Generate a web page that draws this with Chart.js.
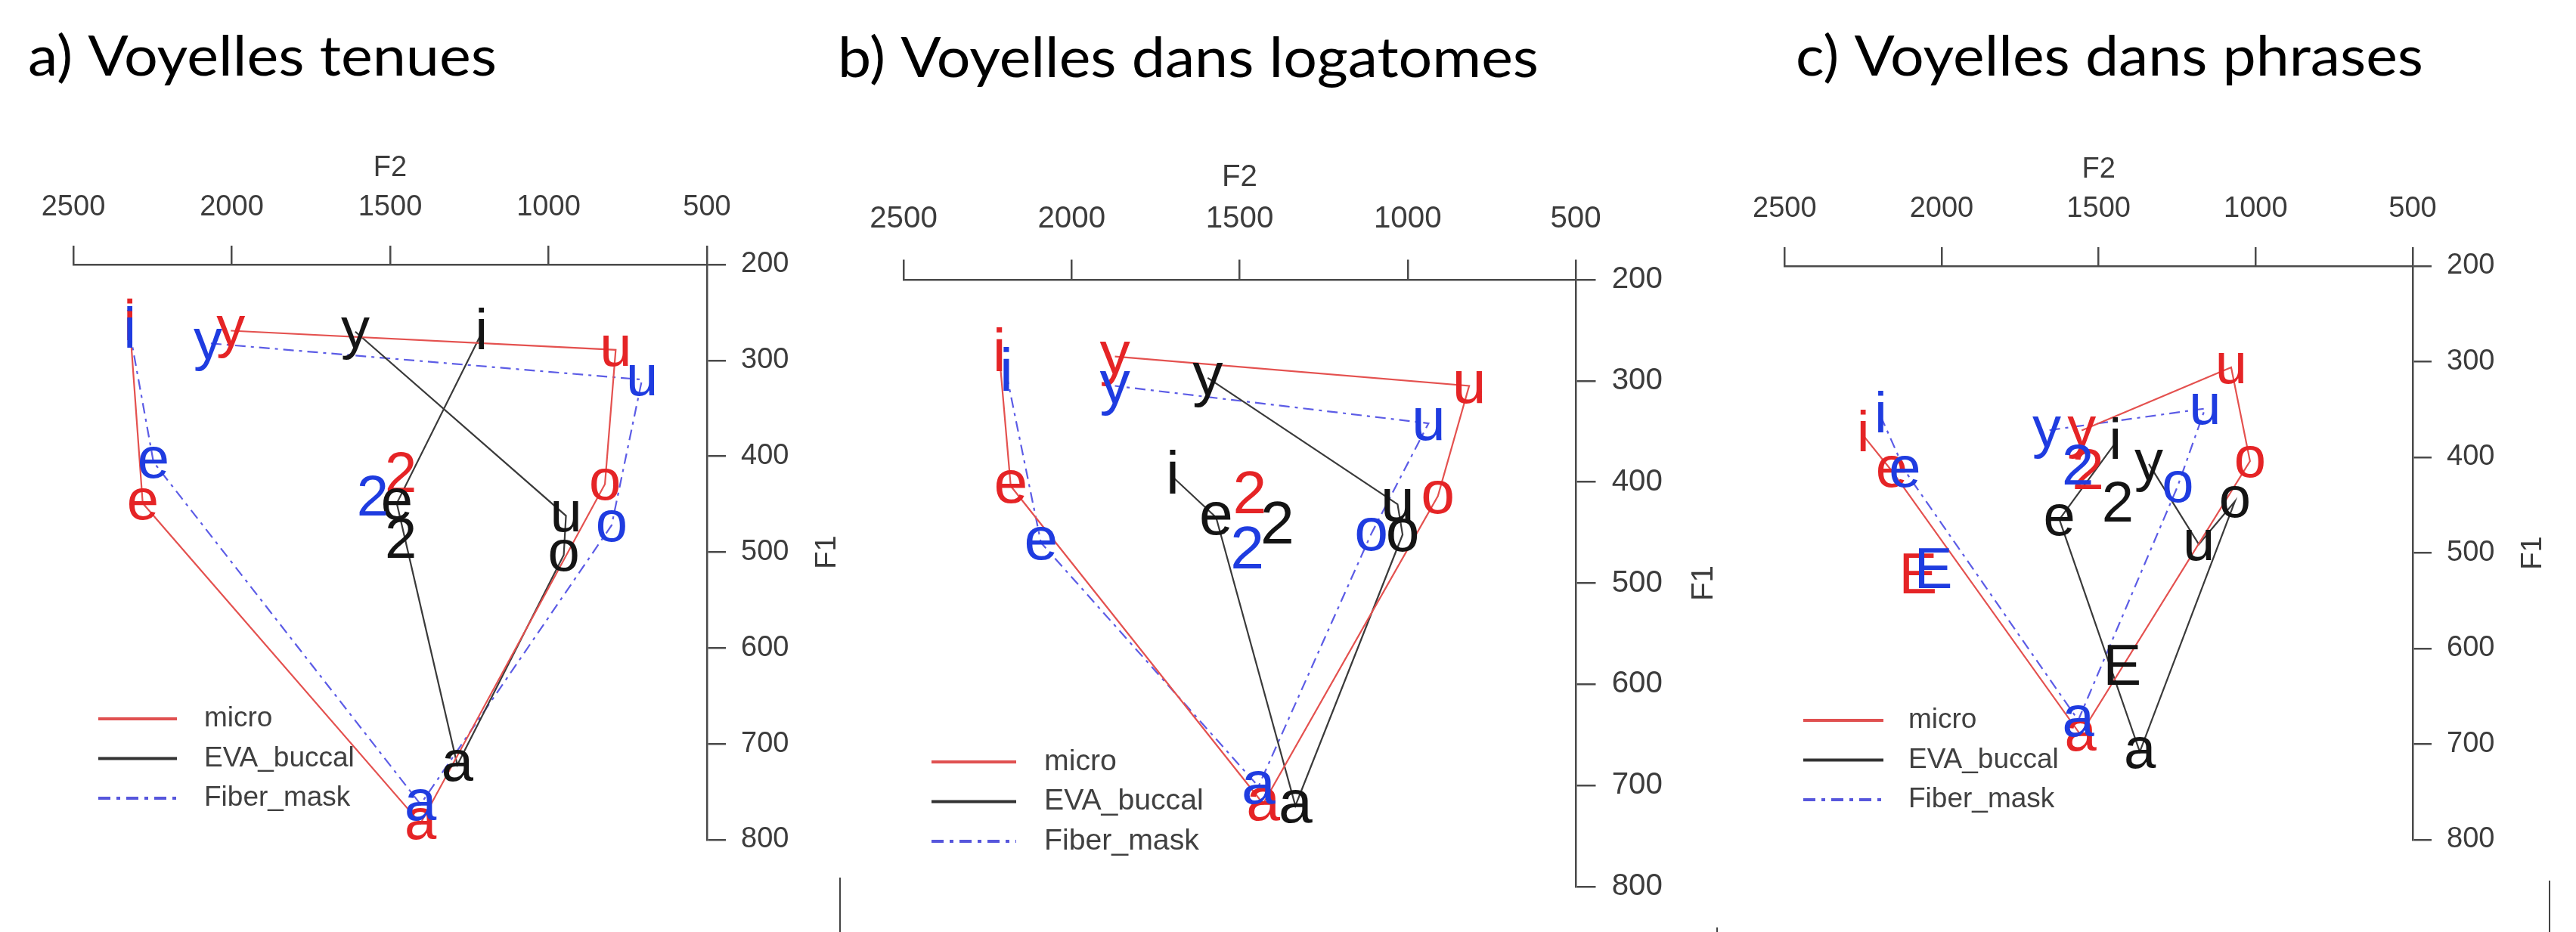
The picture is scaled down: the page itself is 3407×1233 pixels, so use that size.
<!DOCTYPE html>
<html>
<head>
<meta charset="utf-8">
<script src="https://cdn.jsdelivr.net/npm/chart.js@4.4.1/dist/chart.umd.min.js"></script>
<style>
  html, body { margin: 0; padding: 0; background: #fff; }
  body { width: 3407px; height: 1233px; position: relative; overflow: hidden; }
  canvas { position: absolute; top: 0; }
  .stub { position: absolute; width: 2px; background: #444; }
</style>
</head>
<body>
<canvas id="tenues" width="1140" height="1233" style="left:0px"></canvas>
<canvas id="logatomes" width="1200" height="1233" style="left:1090px"></canvas>
<canvas id="phrases" width="1117" height="1233" style="left:2290px"></canvas>
<div class="stub" style="left:1110px; top:1161px; height:72px"></div>
<div class="stub" style="left:2270px; top:1227px; height:6px"></div>
<div class="stub" style="left:3371px; top:1165px; height:68px"></div>
<script>
// vowels joined by the polygon line, then the ones plotted alone
const vowelOrder = ['i', 'e', 'a', 'o', 'u', 'y'];
const loneTenues = ['2'];
const loneLogatomes = ['2'];
const lonePhrases = ['2', 'E'];
const seriesNames = ['micro', 'EVA_buccal', 'Fiber_mask'];
const f2Ticks = [2500, 2000, 1500, 1000, 500];
const f1Ticks = [200, 300, 400, 500, 600, 700, 800];

// a) Voyelles tenues  -- order: i e a o u y | 2
const tenuesMicroF2  = [2322, 2281, 1404, 822, 788, 2003, 1466];
const tenuesMicroF1  = [262, 449, 783, 429, 289, 269, 421];
const tenuesBuccalF2 = [1212, 1479, 1288, 952, 945, 1610, 1466];
const tenuesBuccalF1 = [272, 449, 722, 503, 462, 270, 489];
const tenuesFiberF2  = [2322, 2247, 1404, 801, 705, 2075, 1555];
const tenuesFiberF1  = [270, 406, 763, 472, 320, 282, 445];

// b) Voyelles dans logatomes
const logaMicroF2  = [2215, 2181, 1430, 910, 817, 1871, 1470];
const logaMicroF1  = [274, 404, 718, 414, 305, 276, 414];
const logaBuccalF2 = [1699, 1570, 1334, 1015, 1030, 1595, 1388];
const logaBuccalF1 = [395, 435, 720, 452, 422, 297, 444];
const logaFiberF2  = [2194, 2091, 1444, 1108, 938, 1871, 1477];
const logaFiberF1  = [293, 460, 701, 451, 342, 305, 469];

// c) Voyelles dans phrases  -- order: i e a o u y | 2 E
const phrMicroF2  = [2250, 2159, 1558, 1018, 1078, 1554, 1534, 2075];
const phrMicroF1  = [377, 414, 690, 404, 306, 372, 417, 526];
const phrBuccalF2 = [1447, 1625, 1369, 1066, 1181, 1340, 1439, 1425];
const phrBuccalF1 = [385, 465, 708, 446, 491, 407, 451, 621];
const phrFiberF2  = [2194, 2117, 1565, 1248, 1161, 1665, 1566, 2026];
const phrFiberF1  = [357, 414, 675, 430, 349, 372, 412, 520];

const FONT = '"Liberation Sans", Arial, sans-serif';
const AXIS = '#4a4a4a';

const styles = [
  { text: '#e52426', line: '#e4514f', legend: '#e05050', dash: [] },
  { text: '#141414', line: '#3a3a3a', legend: '#333333', dash: [] },
  { text: '#1f3ce0', line: '#5c5ce6', legend: '#5656dc', dash: [14, 7, 4, 7] }
];

function pts(f2, f1, from, to) {
  return f2.slice(from, to).map((x, i) => ({ x: x, y: f1[from + i] }));
}

// per series: polygon first, then its lone vowels (R-like drawing order)
function buildDatasets(series, lone) {
  const n = vowelOrder.length;
  const out = [];
  series.forEach((s, i) => {
    out.push({
      label: seriesNames[i],
      data: pts(s[0], s[1], 0, n),
      vowels: vowelOrder,
      showLine: true,
      inLegend: true,
      borderColor: styles[i].line,
      borderWidth: 2.2,
      borderDash: styles[i].dash,
      legendColor: styles[i].legend,
      textColor: styles[i].text,
      pointRadius: 0,
      pointHoverRadius: 0
    });
    out.push({
      label: seriesNames[i] + ' (alone)',
      data: pts(s[0], s[1], n, s[0].length),
      vowels: lone,
      showLine: false,
      inLegend: false,
      textColor: styles[i].text,
      pointRadius: 0,
      pointHoverRadius: 0
    });
  });
  return out;
}

const vowelText = {
  id: 'vowelText',
  afterDatasetsDraw(chart, args, opts) {
    const ctx = chart.ctx;
    ctx.save();
    ctx.font = opts.size + 'px ' + FONT;
    ctx.textAlign = 'center';
    ctx.textBaseline = 'middle';
    chart.data.datasets.forEach((ds, di) => {
      const meta = chart.getDatasetMeta(di);
      ctx.fillStyle = ds.textColor;
      meta.data.forEach((p, i) => ctx.fillText(ds.vowels[i], p.x, p.y));
    });
    ctx.restore();
  }
};

const decorations = {
  id: 'decorations',
  afterDraw(chart, args, o) {
    const ctx = chart.ctx, a = chart.chartArea, k = o.k;
    ctx.save();

    // panel title
    ctx.font = '73px Lato, "Open Sans", sans-serif';
    ctx.fillStyle = '#000';
    ctx.textAlign = 'left';
    ctx.textBaseline = 'alphabetic';
    const w = ctx.measureText(o.title).width;
    ctx.save();
    ctx.translate(o.titleX, o.titleY);
    ctx.scale(o.titleW / w, 1);
    ctx.fillText(o.title, 0, 0);
    ctx.restore();

    // axis titles
    ctx.font = (38 * k) + 'px ' + FONT;
    ctx.fillStyle = '#3c3c3c';
    ctx.textAlign = 'center';
    ctx.textBaseline = 'middle';
    ctx.fillText('F2', (a.left + a.right) / 2, a.top - 127 * k);
    ctx.save();
    ctx.translate(a.right + 160 * k, (a.top + a.bottom) / 2);
    ctx.rotate(-Math.PI / 2);
    ctx.fillText('F1', 0, 0);
    ctx.restore();

    // legend
    const L = o.legend;
    ctx.font = (37 * k) + 'px ' + FONT;
    ctx.textAlign = 'left';
    ctx.fillStyle = '#404040';
    chart.data.datasets.filter(ds => ds.inLegend).forEach((ds, i) => {
      const y = L.y + i * L.dy;
      ctx.beginPath();
      ctx.setLineDash(ds.borderDash.length ? [16, 8, 5, 8] : []);
      ctx.strokeStyle = ds.legendColor;
      ctx.lineWidth = 4;
      ctx.moveTo(L.x0, y);
      ctx.lineTo(L.x1, y);
      ctx.stroke();
      ctx.fillText(ds.label, L.tx, y);
    });
    ctx.restore();
  }
};

function makeChart(id, p) {
  const k = p.k;
  const grid = { drawOnChartArea: false, drawTicks: true, tickLength: 25 * k, color: AXIS, lineWidth: 2.5 };
  const border = { display: true, color: AXIS, width: 2.5 };
  return new Chart(document.getElementById(id), {
    type: 'scatter',
    data: { datasets: buildDatasets(p.series, p.lone) },
    options: {
      responsive: false,
      animation: false,
      events: [],
      layout: { padding: { left: p.padLeft, right: 0, top: 0, bottom: p.padBottom } },
      plugins: {
        legend: { display: false },
        tooltip: { enabled: false },
        vowelText: { size: 76 * k },
        decorations: { k: k, title: p.title, titleX: p.titleX, titleY: p.titleY, titleW: p.titleW, legend: p.legend }
      },
      scales: {
        x: {
          type: 'linear', position: 'top', reverse: true, min: 500, max: 2500,
          afterFit: s => { s.height = p.top; },
          afterBuildTicks: s => { s.ticks = f2Ticks.map(v => ({ value: v })); },
          grid: grid, border: border,
          ticks: { font: { family: FONT, size: 38 * k }, color: '#3c3c3c', padding: 28 * k,
                   maxRotation: 0, autoSkip: false, callback: v => String(v) }
        },
        y: {
          type: 'linear', position: 'right', reverse: true, min: 200, max: 800,
          afterFit: s => { s.width = p.yWidth; },
          afterBuildTicks: s => { s.ticks = f1Ticks.map(v => ({ value: v })); },
          grid: grid, border: border,
          ticks: { font: { family: FONT, size: 38 * k }, color: '#3c3c3c', padding: 20 * k,
                   autoSkip: false, callback: v => String(v) }
        }
      }
    },
    plugins: [vowelText, decorations]
  });
}

makeChart('tenues', {
  k: 1, padLeft: 97, top: 350, padBottom: 122, yWidth: 205,
  title: 'a) Voyelles tenues', titleX: 37, titleY: 100, titleW: 620,
  legend: { x0: 130, x1: 234, tx: 270, y: 951, dy: 52.5 },
  series: [[tenuesMicroF2, tenuesMicroF1], [tenuesBuccalF2, tenuesBuccalF1], [tenuesFiberF2, tenuesFiberF1]],
  lone: loneTenues
});

makeChart('logatomes', {
  k: 1.06, padLeft: 105, top: 370, padBottom: 60, yWidth: 206,
  title: 'b) Voyelles dans logatomes', titleX: 18, titleY: 102, titleW: 927,
  legend: { x0: 142, x1: 254, tx: 291, y: 1008, dy: 52.5 },
  series: [[logaMicroF2, logaMicroF1], [logaBuccalF2, logaBuccalF1], [logaFiberF2, logaFiberF1]],
  lone: loneLogatomes
});

makeChart('phrases', {
  k: 1, padLeft: 61, top: 352, padBottom: 122, yWidth: 216,
  title: 'c) Voyelles dans phrases', titleX: 85, titleY: 100, titleW: 830,
  legend: { x0: 95, x1: 201, tx: 234, y: 953, dy: 52.5 },
  series: [[phrMicroF2, phrMicroF1], [phrBuccalF2, phrBuccalF1], [phrFiberF2, phrFiberF1]],
  lone: lonePhrases
});
</script>
</body>
</html>
